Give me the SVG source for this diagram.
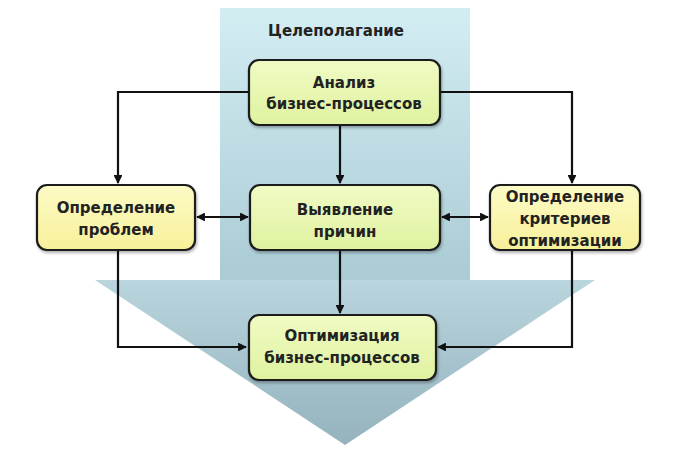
<svg xmlns="http://www.w3.org/2000/svg" width="680" height="449" viewBox="0 0 680 449">
<defs>
<linearGradient id="shaft" x1="0" y1="0" x2="0" y2="1">
<stop offset="0" stop-color="#d3edf3"/>
<stop offset="1" stop-color="#aacbd4"/>
</linearGradient>
<linearGradient id="head" x1="0" y1="0" x2="0" y2="1">
<stop offset="0" stop-color="#b9d5de"/>
<stop offset="1" stop-color="#94b3bd"/>
</linearGradient>
<linearGradient id="green" x1="0" y1="0" x2="0" y2="1">
<stop offset="0" stop-color="#f0fbc4"/>
<stop offset="1" stop-color="#dff2a0"/>
</linearGradient>
<linearGradient id="yellow" x1="0" y1="0" x2="0" y2="1">
<stop offset="0" stop-color="#fdfbc6"/>
<stop offset="1" stop-color="#f7f09a"/>
</linearGradient>
<marker id="ah" viewBox="0 0 10 10" refX="9" refY="5" markerWidth="4" markerHeight="4" orient="auto-start-reverse" markerUnits="strokeWidth">
<path d="M0,0 L10,5 L0,10 z" fill="#111"/>
</marker>
<filter id="sh" x="-10%" y="-10%" width="130%" height="140%">
<feDropShadow dx="1" dy="2" stdDeviation="1.5" flood-color="#000" flood-opacity="0.3"/>
</filter>
</defs>
<style>
.box{stroke:#1a1a1a;stroke-width:2.2;filter:url(#sh)}
.g{fill:url(#green)}
.y{fill:url(#yellow)}
.t{font-family:"DejaVu Sans",Verdana,sans-serif;font-weight:bold;font-size:15px;fill:#222;text-anchor:middle}
.c{fill:none;stroke:#111;stroke-width:2.2}
</style>
<g id="bigarrow">
<rect x="220" y="8" width="250" height="275" fill="url(#shaft)"/>
<polygon points="95,280 595,280 345,445" fill="url(#head)"/>
</g>
<text class="t" x="336" y="36">Целеполагание</text>
<g id="connectors">
<path class="c" d="M250,92 H118 V183" marker-end="url(#ah)"/>
<path class="c" d="M440,92 H572 V183" marker-end="url(#ah)"/>
<path class="c" d="M340,125 V183" marker-end="url(#ah)"/>
<path class="c" d="M340,250 V313" marker-end="url(#ah)"/>
<path class="c" d="M118,250 V347 H246" marker-end="url(#ah)"/>
<path class="c" d="M572,250 V347 H438" marker-end="url(#ah)"/>
<path class="c" d="M197,217 H248" marker-start="url(#ah)" marker-end="url(#ah)"/>
<path class="c" d="M442,217 H488" marker-start="url(#ah)" marker-end="url(#ah)"/>
</g>
<g id="analiz">
<rect class="box g" x="249" y="60" width="191" height="65" rx="10"/>
<text class="t" x="344" y="88">Анализ</text>
<text class="t" x="344" y="109">бизнес-процессов</text>
</g>
<g id="problemy">
<rect class="box y" x="37" y="185" width="158" height="65" rx="10"/>
<text class="t" x="116" y="213">Определение</text>
<text class="t" x="116" y="235">проблем</text>
</g>
<g id="vyyavlenie">
<rect class="box g" x="250" y="185" width="190" height="65" rx="10"/>
<text class="t" x="345" y="215">Выявление</text>
<text class="t" x="345" y="237">причин</text>
</g>
<g id="kriterii">
<rect class="box y" x="490" y="185" width="150" height="65" rx="10"/>
<text class="t" x="565" y="202">Определение</text>
<text class="t" x="565" y="224">критериев</text>
<text class="t" x="565" y="246">оптимизации</text>
</g>
<g id="optimizaciya">
<rect class="box g" x="249" y="315" width="187" height="65" rx="10"/>
<text class="t" x="342" y="341">Оптимизация</text>
<text class="t" x="342" y="363">бизнес-процессов</text>
</g>
</svg>
